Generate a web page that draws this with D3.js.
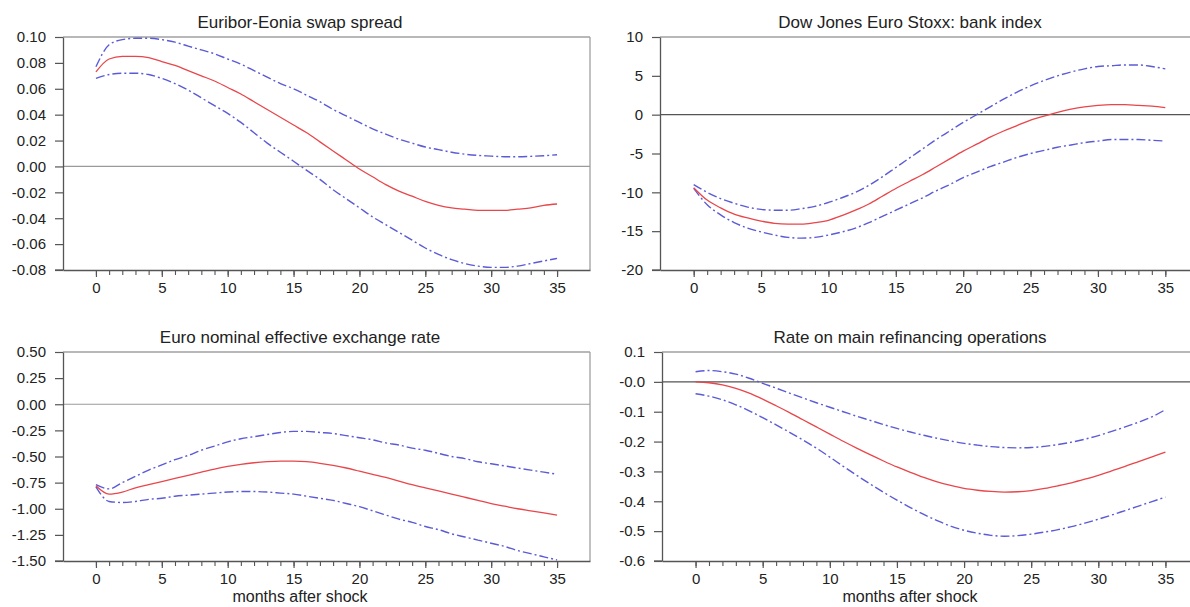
<!DOCTYPE html>
<html><head><meta charset="utf-8">
<script src="https://cdn.jsdelivr.net/npm/d3@7"></script>
<style>
html,body{margin:0;padding:0;background:#fff;}
svg{display:block;font-family:"Liberation Sans",Arial,sans-serif;}
</style></head>
<body>
<svg id="chart" width="1190" height="607"></svg>
<script>
const months = d3.range(0, 36);

// Panel 1: Euribor-Eonia swap spread
const p1Title = "Euribor-Eonia swap spread";
const p1Ticks = [0.10,0.08,0.06,0.04,0.02,0.00,-0.02,-0.04,-0.06,-0.08];
const p1TickLabels = ["0.10","0.08","0.06","0.04","0.02","0.00","-0.02","-0.04","-0.06","-0.08"];
const p1Median = [0.073,0.083,0.085,0.085,0.084,0.081,0.078,0.074,0.070,0.066,0.061,0.056,0.050,0.044,0.038,0.032,0.026,0.019,0.012,0.005,-0.002,-0.008,-0.014,-0.019,-0.023,-0.027,-0.030,-0.032,-0.033,-0.034,-0.034,-0.034,-0.033,-0.032,-0.030,-0.029];
const p1Upper = [0.077,0.094,0.098,0.099,0.099,0.098,0.096,0.093,0.090,0.087,0.083,0.079,0.074,0.069,0.064,0.060,0.055,0.050,0.044,0.039,0.034,0.029,0.025,0.021,0.018,0.015,0.013,0.011,0.0095,0.0085,0.008,0.0075,0.0075,0.0078,0.0083,0.009];
const p1Lower = [0.068,0.071,0.072,0.072,0.071,0.068,0.064,0.059,0.053,0.047,0.041,0.034,0.026,0.018,0.011,0.004,-0.003,-0.010,-0.018,-0.025,-0.032,-0.039,-0.045,-0.051,-0.057,-0.063,-0.068,-0.072,-0.075,-0.077,-0.078,-0.078,-0.077,-0.075,-0.073,-0.071];

// Panel 2: Dow Jones Euro Stoxx: bank index
const p2Title = "Dow Jones Euro Stoxx: bank index";
const p2Ticks = [10,5,0,-5,-10,-15,-20];
const p2TickLabels = ["10","5","0","-5","-10","-15","-20"];
const p2Median = [-9.4,-11.0,-12.0,-12.8,-13.3,-13.7,-14.0,-14.1,-14.1,-13.9,-13.6,-13.0,-12.3,-11.5,-10.5,-9.5,-8.6,-7.7,-6.7,-5.7,-4.7,-3.8,-2.9,-2.1,-1.4,-0.7,-0.2,0.3,0.7,1.0,1.2,1.3,1.3,1.2,1.1,0.9];
const p2Upper = [-9.0,-10.0,-10.8,-11.4,-11.9,-12.2,-12.3,-12.3,-12.1,-11.8,-11.3,-10.7,-10.0,-9.1,-8.0,-6.8,-5.6,-4.4,-3.2,-2.1,-1.0,0.0,1.0,2.0,2.9,3.7,4.4,5.0,5.5,5.9,6.2,6.3,6.4,6.4,6.2,5.9];
const p2Lower = [-9.5,-11.6,-12.9,-13.9,-14.6,-15.1,-15.5,-15.8,-15.9,-15.8,-15.5,-15.1,-14.6,-13.9,-13.1,-12.3,-11.5,-10.7,-9.8,-9.0,-8.1,-7.4,-6.7,-6.1,-5.5,-5.0,-4.6,-4.2,-3.9,-3.6,-3.4,-3.2,-3.2,-3.2,-3.3,-3.4];

// Panel 3: Euro nominal effective exchange rate
const p3Title = "Euro nominal effective exchange rate";
const p3Ticks = [0.5,0.25,0,-0.25,-0.5,-0.75,-1,-1.25,-1.5];
const p3TickLabels = ["0.50","0.25","0.00","-0.25","-0.50","-0.75","-1.00","-1.25","-1.50"];
const p3Median = [-0.78,-0.86,-0.84,-0.80,-0.77,-0.74,-0.71,-0.68,-0.65,-0.62,-0.595,-0.575,-0.56,-0.55,-0.545,-0.545,-0.55,-0.565,-0.585,-0.61,-0.64,-0.67,-0.70,-0.735,-0.77,-0.80,-0.83,-0.86,-0.89,-0.92,-0.95,-0.975,-1.00,-1.02,-1.04,-1.06];
const p3Upper = [-0.77,-0.81,-0.75,-0.69,-0.63,-0.58,-0.53,-0.49,-0.44,-0.40,-0.36,-0.33,-0.31,-0.29,-0.27,-0.26,-0.26,-0.27,-0.28,-0.30,-0.32,-0.34,-0.37,-0.39,-0.42,-0.44,-0.47,-0.50,-0.52,-0.55,-0.57,-0.59,-0.61,-0.63,-0.65,-0.67];
const p3Lower = [-0.79,-0.93,-0.94,-0.93,-0.91,-0.90,-0.88,-0.87,-0.86,-0.85,-0.84,-0.835,-0.835,-0.84,-0.85,-0.86,-0.88,-0.90,-0.92,-0.95,-0.98,-1.02,-1.06,-1.10,-1.13,-1.17,-1.20,-1.24,-1.27,-1.30,-1.33,-1.36,-1.40,-1.43,-1.46,-1.49];

// Panel 4: Rate on main refinancing operations
const p4Title = "Rate on main refinancing operations";
const p4Ticks = [0.1,0,-0.1,-0.2,-0.3,-0.4,-0.5,-0.6];
const p4TickLabels = ["0.1","-0.0","-0.1","-0.2","-0.3","-0.4","-0.5","-0.6"];
const p4Median = [0.0,-0.003,-0.010,-0.022,-0.038,-0.058,-0.080,-0.103,-0.127,-0.151,-0.175,-0.199,-0.222,-0.244,-0.265,-0.285,-0.303,-0.320,-0.335,-0.347,-0.357,-0.363,-0.367,-0.369,-0.368,-0.364,-0.357,-0.348,-0.338,-0.326,-0.313,-0.298,-0.283,-0.267,-0.251,-0.235];
const p4Upper = [0.034,0.038,0.034,0.026,0.012,-0.005,-0.021,-0.038,-0.054,-0.070,-0.085,-0.100,-0.115,-0.129,-0.143,-0.156,-0.168,-0.179,-0.189,-0.198,-0.206,-0.212,-0.217,-0.220,-0.221,-0.220,-0.216,-0.210,-0.202,-0.192,-0.180,-0.166,-0.151,-0.135,-0.117,-0.093];
const p4Lower = [-0.040,-0.048,-0.060,-0.077,-0.097,-0.120,-0.144,-0.169,-0.195,-0.222,-0.252,-0.283,-0.313,-0.342,-0.370,-0.396,-0.421,-0.444,-0.465,-0.483,-0.497,-0.507,-0.514,-0.517,-0.515,-0.510,-0.503,-0.495,-0.485,-0.473,-0.460,-0.446,-0.431,-0.416,-0.401,-0.386];

const xMajor = [0,5,10,15,20,25,30,35];
const xLabel = "months after shock";

const panels = [
  {title:p1Title, ticks:p1Ticks, labels:p1TickLabels, med:p1Median, up:p1Upper, lo:p1Lower,
   box:{x0:63,x1:590,y0:37,y1:270}, yDom:[-0.08,0.10], titleX:300, zeroCol:"#9a9a9a", xlab:false},
  {title:p2Title, ticks:p2Ticks, labels:p2TickLabels, med:p2Median, up:p2Upper, lo:p2Lower,
   box:{x0:660,x1:1199,y0:37,y1:270}, yDom:[-20,10], titleX:910, zeroCol:"#555", xlab:false},
  {title:p3Title, ticks:p3Ticks, labels:p3TickLabels, med:p3Median, up:p3Upper, lo:p3Lower,
   box:{x0:63,x1:590,y0:352,y1:561}, yDom:[-1.5,0.5], titleX:300, zeroCol:"#9a9a9a", xlab:true},
  {title:p4Title, ticks:p4Ticks, labels:p4TickLabels, med:p4Median, up:p4Upper, lo:p4Lower,
   box:{x0:662,x1:1199,y0:352,y1:561}, yDom:[-0.6,0.1], titleX:910, zeroCol:"#555", xlab:true}
];

const svg = d3.select("#chart");
const axisCol = "#555";
const borderCol = "#a0a0a0";
const textCol = "#222";

panels.forEach(p => {
  const b = p.box;
  const x = d3.scaleLinear().domain([-2.5, 37.5]).range([b.x0, b.x1]);
  const y = d3.scaleLinear().domain(p.yDom).range([b.y1, b.y0]);
  const g = svg.append("g");

  g.append("line").attr("x1", b.x0).attr("x2", b.x1).attr("y1", b.y0).attr("y2", b.y0)
    .attr("stroke", borderCol).attr("stroke-width", 1.3);
  g.append("line").attr("x1", b.x1).attr("x2", b.x1).attr("y1", b.y0).attr("y2", b.y1)
    .attr("stroke", borderCol).attr("stroke-width", 1.3);

  g.append("line").attr("x1", b.x0).attr("x2", b.x1).attr("y1", y(0)).attr("y2", y(0))
    .attr("stroke", p.zeroCol).attr("stroke-width", 1.2);

  const yAxis = d3.axisLeft(y).tickValues(p.ticks)
    .tickFormat((d,i) => p.labels[i]).tickSize(8).tickPadding(9).tickSizeOuter(0);
  const ya = g.append("g").attr("transform", `translate(${b.x0},0)`).call(yAxis);
  ya.select(".domain").attr("stroke", axisCol).attr("stroke-width", 1.3);
  ya.selectAll(".tick line").attr("stroke", axisCol).attr("stroke-width", 1.2);
  ya.selectAll(".tick text").attr("fill", textCol).style("font-size", "15px")
    .style("font-family", "'Liberation Sans', Arial, sans-serif");

  const xMinor = g.append("g").attr("transform", `translate(0,${b.y1})`)
    .call(d3.axisBottom(x).tickValues(months).tickSize(5).tickFormat("").tickSizeOuter(0));
  xMinor.select(".domain").remove();
  xMinor.selectAll(".tick line").attr("stroke", axisCol).attr("stroke-width", 1.1);

  const xa = g.append("g").attr("transform", `translate(0,${b.y1})`)
    .call(d3.axisBottom(x).tickValues(xMajor).tickSize(7).tickPadding(5).tickSizeOuter(0));
  xa.select(".domain").attr("stroke", axisCol).attr("stroke-width", 1.3);
  xa.selectAll(".tick line").attr("stroke", axisCol).attr("stroke-width", 1.2);
  xa.selectAll(".tick text").attr("fill", textCol).style("font-size", "15px")
    .style("font-family", "'Liberation Sans', Arial, sans-serif");
  g.append("line").attr("x1", b.x0 - 8).attr("x2", b.x0).attr("y1", b.y1).attr("y2", b.y1)
    .attr("stroke", axisCol).attr("stroke-width", 1.3);

  const line = d3.line().x((d,i) => x(months[i])).y(d => y(d)).curve(d3.curveMonotoneX);
  g.append("path").datum(p.up).attr("d", line).attr("fill", "none")
    .attr("stroke", "#5b5bd6").attr("stroke-width", 1.4).attr("stroke-dasharray", "9,3,2,3");
  g.append("path").datum(p.lo).attr("d", line).attr("fill", "none")
    .attr("stroke", "#5b5bd6").attr("stroke-width", 1.4).attr("stroke-dasharray", "9,3,2,3");
  g.append("path").datum(p.med).attr("d", line).attr("fill", "none")
    .attr("stroke", "#e8464a").attr("stroke-width", 1.3);

  g.append("text").attr("x", p.titleX).attr("y", b.y0 - 9).attr("text-anchor", "middle")
    .attr("fill", textCol).style("font-size", "17px").text(p.title);

  if (p.xlab) {
    g.append("text").attr("x", p.titleX).attr("y", b.y1 + 41).attr("text-anchor", "middle")
      .attr("fill", textCol).style("font-size", "16px").text(xLabel);
  }
});
</script>
</body></html>
